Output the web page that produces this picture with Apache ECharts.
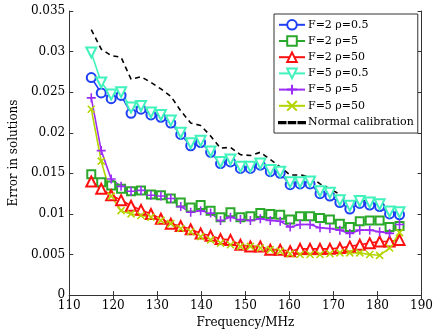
<!DOCTYPE html>
<html>
<head>
<meta charset="utf-8">
<script src="https://cdn.jsdelivr.net/npm/echarts@6/dist/echarts.min.js"></script>
<style>
  html, body { margin: 0; padding: 0; background: #fff; }
  #chart { width: 436px; height: 334px; }
</style>
</head>
<body>
<div id="chart"></div>
<script>
// frequencies (MHz)
var freqs = [115, 117.26, 119.52, 121.77, 124.03, 126.29, 128.55, 130.81, 133.06, 135.32,
  137.58, 139.84, 142.1, 144.35, 146.61, 148.87, 151.13, 153.39, 155.65, 157.9,
  160.16, 162.42, 164.68, 166.94, 169.19, 171.45, 173.71, 175.97, 178.23, 180.48,
  182.74, 185];

var f2r05 = [0.0268, 0.0249, 0.0242, 0.0246, 0.0224, 0.0229, 0.0222, 0.0219, 0.0212, 0.0198,
  0.0184, 0.0188, 0.0176, 0.0162, 0.0164, 0.0156, 0.0156, 0.0160, 0.0152, 0.0150,
  0.0136, 0.0137, 0.0137, 0.0125, 0.0122, 0.0114, 0.0106, 0.0113, 0.0111, 0.0109,
  0.0100, 0.0099];
var f2r5 = [0.0149, 0.0139, 0.0135, 0.0131, 0.0128, 0.0129, 0.0124, 0.0123, 0.0119, 0.0114,
  0.0108, 0.0111, 0.0104, 0.0096, 0.0102, 0.0096, 0.0097, 0.0101, 0.0100, 0.0099,
  0.0093, 0.0097, 0.0097, 0.0095, 0.0093, 0.0088, 0.0084, 0.0091, 0.0092, 0.0092,
  0.0084, 0.0085];
var f2r50 = [0.0140, 0.0131, 0.0123, 0.0117, 0.0110, 0.0105, 0.0100, 0.0094, 0.0088, 0.0085,
  0.0081, 0.0076, 0.0073, 0.0069, 0.0068, 0.0062, 0.0060, 0.0060, 0.0056, 0.0056,
  0.0054, 0.0057, 0.0057, 0.0057, 0.0057, 0.0058, 0.0060, 0.0062, 0.0064, 0.0066,
  0.0066, 0.0068];
var f5r05 = [0.0299, 0.0262, 0.0247, 0.0250, 0.0231, 0.0233, 0.0225, 0.0222, 0.0215, 0.0200,
  0.0187, 0.0190, 0.0177, 0.0164, 0.0167, 0.0158, 0.0158, 0.0162, 0.0154, 0.0152,
  0.0139, 0.0139, 0.0140, 0.0128, 0.0126, 0.0117, 0.0110, 0.0116, 0.0114, 0.0112,
  0.0103, 0.0102];
var f5r5 = [0.0243, 0.0178, 0.0143, 0.0134, 0.0128, 0.0129, 0.0123, 0.0122, 0.0119, 0.0109,
  0.0102, 0.0104, 0.0101, 0.0092, 0.0096, 0.0093, 0.0092, 0.0094, 0.0092, 0.0091,
  0.0084, 0.0087, 0.0087, 0.0083, 0.0082, 0.0080, 0.0076, 0.0080, 0.0080, 0.0078,
  0.0076, 0.0087];
var f5r50 = [0.0229, 0.0165, 0.0122, 0.0104, 0.0100, 0.0098, 0.0096, 0.0092, 0.0088, 0.0082,
  0.0078, 0.0072, 0.0068, 0.0064, 0.0062, 0.0060, 0.0060, 0.0058, 0.0056, 0.0054,
  0.0051, 0.0050, 0.0050, 0.0050, 0.0051, 0.0052, 0.0052, 0.0052, 0.0050, 0.0049,
  0.0058, 0.0077];
var normalCal = [0.0327, 0.0303, 0.0295, 0.0293, 0.0266, 0.0269, 0.0262, 0.0254, 0.0245, 0.0227,
  0.0212, 0.0209, 0.0196, 0.0181, 0.0182, 0.0173, 0.0172, 0.0176, 0.0167, 0.0158,
  0.0148, 0.0148, 0.0146, 0.0137, 0.0131, 0.0124, 0.0112, 0.0117, 0.0115, 0.0109,
  0.0103, 0.0102];

var fontFam = "DejaVu Serif";
// dashed legend icon for the black reference line
var dashIcon = "path://M0,0 M0,10 M0,4.4 L6,4.4 L6,5.6 L0,5.6 Z M9,4.4 L15,4.4 L15,5.6 L9,5.6 Z M18,4.4 L24,4.4 L24,5.6 L18,5.6 Z";

function pairs(vals) {
  return vals.map(function (v, i) { return [freqs[i], v]; });
}

function mkSeries(name, vals, color, symbol, extra) {
  var s = {
    name: name,
    type: "line",
    data: pairs(vals),
    symbol: symbol,
    symbolSize: 9,
    lineStyle: { color: color, width: 1.6 },
    itemStyle: { color: color, borderColor: color, borderWidth: 1.6 },
    emphasis: { disabled: true },
    animation: false,
    z: 3
  };
  if (extra) {
    for (var k in extra) s[k] = extra[k];
  }
  return s;
}

var chart = echarts.init(document.getElementById("chart"));
var option = {
  backgroundColor: "#fff",
  animation: false,
  textStyle: { fontFamily: fontFam },
  grid: { left: 54, right: 13, top: 11, bottom: 33 },
  legend: {
    orient: "vertical",
    left: 274,
    top: 14,
    itemWidth: 26,
    itemHeight: 12,
    itemGap: 4.6,
    padding: [5, 4, 4, 4],
    backgroundColor: "#fff",
    borderColor: "#333",
    borderWidth: 1,
    textStyle: { fontFamily: fontFam, fontSize: 11, color: "#000", padding: [0, 0, 0, -2] },
    data: ["F=2 ρ=0.5", "F=2 ρ=5", "F=2 ρ=50", "F=5 ρ=0.5", "F=5 ρ=5", "F=5 ρ=50",
      { name: "Normal calibration", icon: dashIcon, itemStyle: { color: "#000" } }]
  },
  xAxis: [
    {
      type: "value",
      min: 110,
      max: 190,
      interval: 10,
      name: "Frequency/MHz",
      nameLocation: "middle",
      nameGap: 18,
      nameTextStyle: { fontFamily: fontFam, fontSize: 12, color: "#000" },
      axisLine: { lineStyle: { color: "#333" } },
      axisTick: { inside: true, length: 4, lineStyle: { color: "#333" } },
      axisLabel: { fontFamily: fontFam, fontSize: 12, color: "#000", margin: 5 },
      splitLine: { show: false }
    },
    {
      type: "value",
      position: "top",
      min: 110,
      max: 190,
      interval: 10,
      axisLine: { show: true, lineStyle: { color: "#333" } },
      axisTick: { show: true, inside: true, length: 4, lineStyle: { color: "#333" } },
      axisLabel: { show: false },
      splitLine: { show: false }
    }
  ],
  yAxis: [
    {
      type: "value",
      min: 0,
      max: 0.035,
      interval: 0.005,
      name: "Error in solutions",
      nameLocation: "middle",
      nameGap: 38,
      nameTextStyle: { fontFamily: fontFam, fontSize: 12, color: "#000" },
      axisLine: { show: true, lineStyle: { color: "#333" } },
      axisTick: { show: true, inside: true, length: 4, lineStyle: { color: "#333" } },
      axisLabel: { fontFamily: fontFam, fontSize: 12, color: "#000", margin: 4 },
      splitLine: { show: false }
    },
    {
      type: "value",
      position: "right",
      min: 0,
      max: 0.035,
      interval: 0.005,
      axisLine: { show: true, lineStyle: { color: "#333" } },
      axisTick: { show: true, inside: true, length: 4, lineStyle: { color: "#333" } },
      axisLabel: { show: false },
      splitLine: { show: false }
    }
  ],
  series: [
    mkSeries("Normal calibration", normalCal, "#000", "none", {
      lineStyle: { color: "#000", width: 1.6, type: [5, 4] },
      z: 2
    }),
    mkSeries("F=2 ρ=0.5", f2r05, "#1f3ff5", "emptyCircle"),
    mkSeries("F=2 ρ=5", f2r5, "#2aa82a", "emptyRect", { symbolSize: 8 }),
    mkSeries("F=2 ρ=50", f2r50, "#ff1010", "emptyTriangle", { symbolSize: 10 }),
    mkSeries("F=5 ρ=0.5", f5r05, "#40f2bc", "emptyTriangle", { symbolSize: 10, symbolRotate: 180 }),
    mkSeries("F=5 ρ=5", f5r5, "#9b2cf5", "path://M5,0 L5,10 M0,5 L10,5", {
      itemStyle: { color: "#9b2cf5", borderColor: "#9b2cf5", borderWidth: 1.6 }
    }),
    mkSeries("F=5 ρ=50", f5r50, "#b4d400", "path://M0,0 L10,10 M10,0 L0,10", {
      symbolSize: 7,
      itemStyle: { color: "#b4d400", borderColor: "#b4d400", borderWidth: 1.6 }
    })
  ]
};
chart.setOption(option);
window.onresize = function () {
  chart.resize();
};
</script>
</body>
</html>
